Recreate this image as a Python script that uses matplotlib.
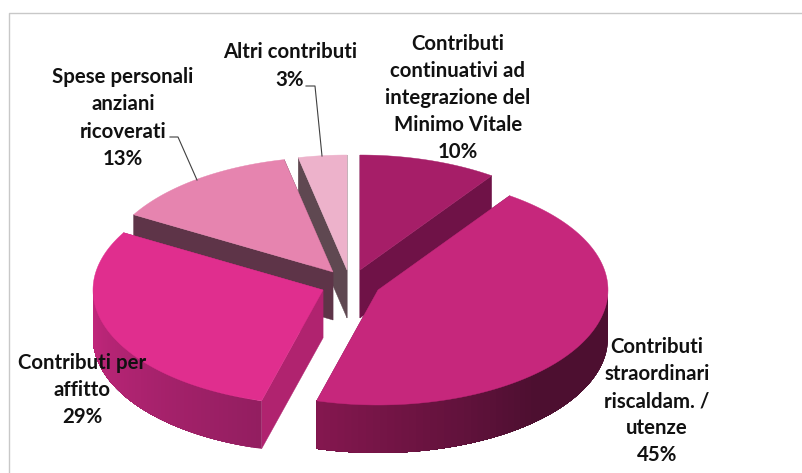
import numpy as np
import matplotlib
matplotlib.use('Agg')
import matplotlib.pyplot as plt
from matplotlib.colors import to_rgb

plt.rcParams['font.family'] = ['Lato', 'DejaVu Sans']

labels = ['Contributi\ncontinuativi ad\nintegrazione del\nMinimo Vitale',
          'Contributi\nstraordinari\nriscaldam. /\nutenze',
          'Contributi per\naffitto',
          'Spese personali\nanziani\nricoverati',
          'Altri contributi']
values = [9.7, 44.6, 29.0, 13.3, 3.4]

top_colors = ['#A61E68', '#C6277C', '#E02E8E', '#E684AF', '#EDB2CB']
cut_colors = ['#6F1247', '#7A1650', '#B0236F', '#5E3448', '#5F4851']
rim_start = ['#6F1247', '#4D0F30', '#931E60', '#5E3448', '#5F4851']
rim_end = ['#6F1247', '#84174F', '#C4277D', '#5E3448', '#5F4851']
rim_flat = [0, 0.45, 0, 0, 0]  # share of the wall that stays at the start colour

# apex of every exploded slice, in pixels
centers = [(360, 270), (378, 290), (323, 290), (333, 272), (347, 270)]
label_pos = [(458, 98), (657, 401), (82, 390), (123, 118), (290, 66)]
draw_order = [4, 3, 0, 2, 1]

RX = 230
RY = 115
DEPTH = 48


def rim(center, deg):
    t = np.radians(deg)
    return center[0] + RX * np.sin(t), center[1] - RY * np.cos(t)


def draw_slice(ax, i, start, end):
    c = centers[i]
    low = (c[0], c[1] + DEPTH)

    # flat cut faces
    for deg in (start, end):
        x, y = rim(c, deg)
        ax.fill([c[0], x, x, low[0]], [c[1], y, y + DEPTH, low[1]],
                color=cut_colors[i], lw=0.3, zorder=2)

    # outer wall, only the part that faces the viewer
    a0 = max(start, 90)
    a1 = min(end, 270)
    if a1 > a0:
        steps = np.linspace(a0, a1, 60)
        col0 = np.array(to_rgb(rim_start[i]))
        col1 = np.array(to_rgb(rim_end[i]))
        for k in range(len(steps) - 1):
            # each band runs on to the end of the wall, the next one paints over it
            xs, ys = rim(c, np.linspace(steps[k], a1, 40))
            f = k / (len(steps) - 2)
            f = max(0, (f - rim_flat[i]) / (1 - rim_flat[i]))
            ax.fill(np.r_[xs, xs[::-1]], np.r_[ys, ys[::-1] + DEPTH],
                    color=col0 + (col1 - col0) * f, lw=0, zorder=2)

    # top face
    angs = np.linspace(start, end, 120)
    xs, ys = rim(c, angs)
    ax.fill(np.r_[c[0], xs], np.r_[c[1], ys], color=top_colors[i], lw=0.3, zorder=2)


fig = plt.figure(figsize=(8.02, 4.73), dpi=100)
ax = fig.add_axes([0, 0, 1, 1])
ax.set_xlim(0, 802)
ax.set_ylim(473, 0)
ax.axis('off')

# chart frame
ax.plot([8.5, 8.5, 802], [473, 13.5, 13.5], color='#C8C8C8', lw=1, zorder=1)

edges = np.r_[0, np.cumsum(values)] / sum(values) * 360
for i in draw_order:
    draw_slice(ax, i, edges[i], edges[i + 1])

# leader lines
ax.plot([306, 315, 322], [86, 86, 156], color='#404040', lw=0.8, zorder=3)
ax.plot([170, 178, 197], [137, 137, 180], color='#404040', lw=0.8, zorder=3)

for name, val, pos in zip(labels, values, label_pos):
    ax.text(pos[0], pos[1], f'{name}\n{round(val)}%', ha='center', va='center',
            fontsize=14.7, fontweight='bold', color='#111111', linespacing=1.45, zorder=4)

fig.savefig('out.png', dpi=100)
